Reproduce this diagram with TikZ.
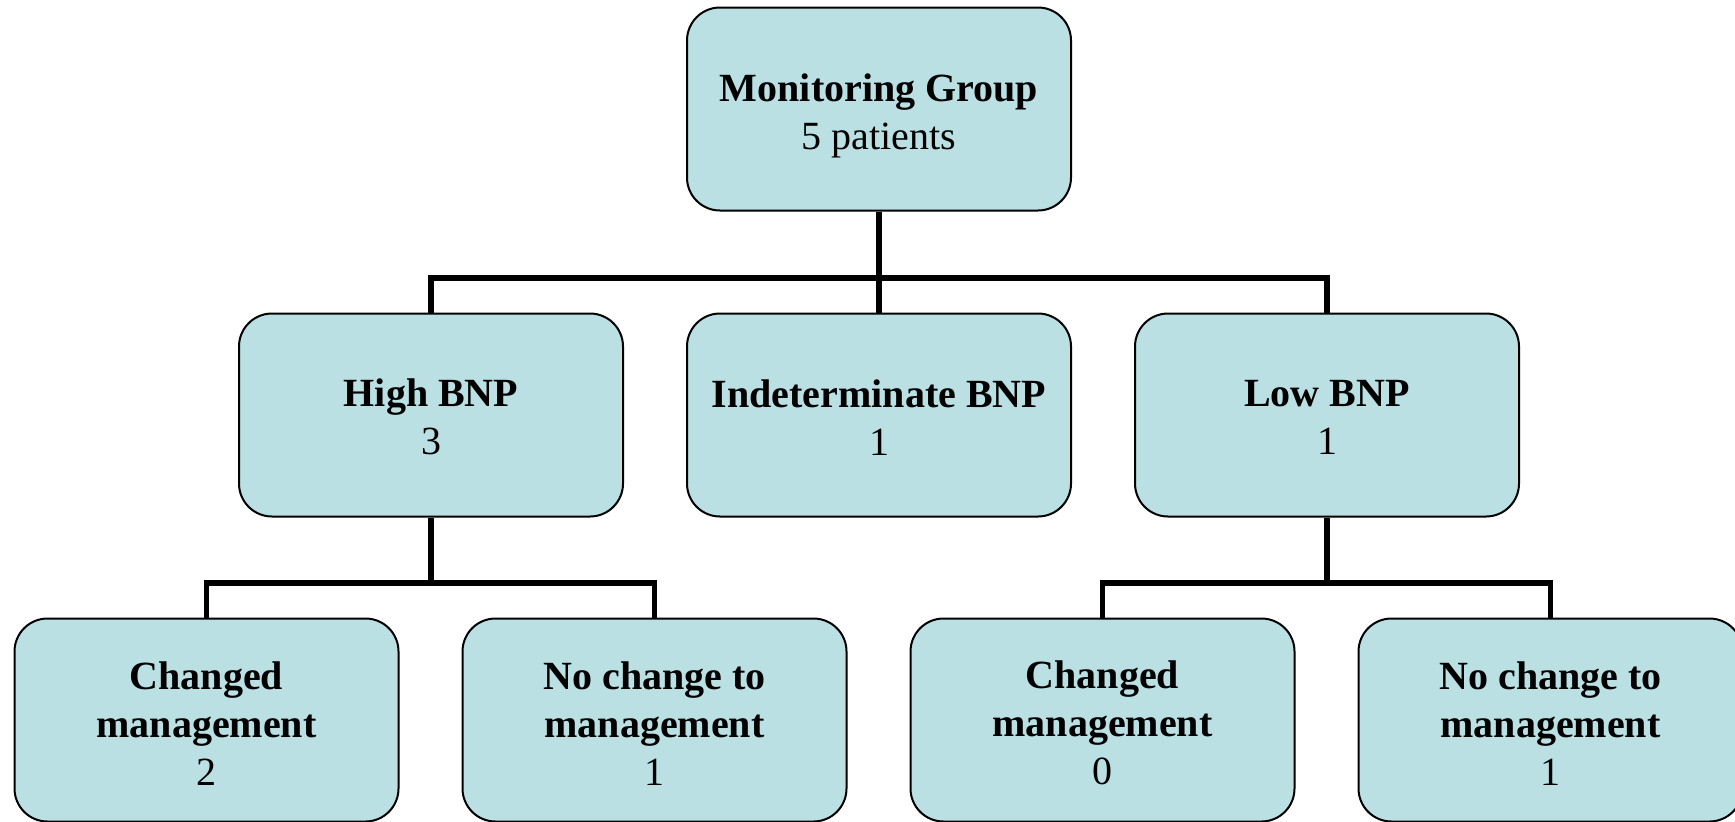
\documentclass[tikz,border=0pt]{standalone}
\usepackage{fontspec}
\setmainfont{Liberation Serif}
\definecolor{boxfill}{RGB}{186,224,227}
\begin{document}
\begin{tikzpicture}[x=0.5pt,y=-0.5pt,
  box/.style={draw=black, line width=1pt, fill=boxfill, rounded corners=16.5pt,
    minimum width=192pt, minimum height=101.5pt, inner sep=0pt},
  txt/.style={align=center, inner sep=0pt, font=\fontsize{20}{24}\selectfont},
  conn/.style={line width=2.6pt, line cap=butt}]
\useasboundingbox (0,0) rectangle (1735,821);
\node[box, label={[txt, name=topt, yshift=-3.3pt]center:{\textbf{Monitoring Group}\\5 patients}}] (top) at (879,109) {};
\node[box, label={[txt, name=hight, yshift=-1.1pt]center:{\textbf{High BNP}\\3}}] (high) at (431,415) {};
\node[box, label={[txt, name=indt, yshift=-1.1pt]center:{\textbf{Indeterminate BNP}\\1}}] (ind) at (879,415) {};
\node[box, label={[txt, name=lowt, yshift=-1.1pt]center:{\textbf{Low BNP}\\1}}] (low) at (1327,415) {};
\node[box, label={[txt, name=b1t, yshift=-1.6pt]center:{\textbf{Changed}\\\textbf{management}\\2}}] (b1) at (206.5,720) {};
\node[box, label={[txt, name=b2t, yshift=-1.6pt]center:{\textbf{No change to}\\\textbf{management}\\1}}] (b2) at (654.5,720) {};
\node[box, label={[txt, name=b3t, yshift=-1.6pt]center:{\textbf{Changed}\\\textbf{management}\\0}}] (b3) at (1102.5,720) {};
\node[box, label={[txt, name=b4t, yshift=-1.6pt]center:{\textbf{No change to}\\\textbf{management}\\1}}] (b4) at (1550.5,720) {};
\draw[conn] (top.south) -- (879,278) coordinate (j1);
\draw[conn] (high.north) |- (j1) -| (low.north);
\draw[conn] (j1) -- (ind.north);
\draw[conn] (high.south) -- (431,583) coordinate (j2);
\draw[conn] (b1.north) |- (j2) -| (b2.north);
\draw[conn] (low.south) -- (1327,583) coordinate (j3);
\draw[conn] (b3.north) |- (j3) -| (b4.north);
\end{tikzpicture}
\end{document}
